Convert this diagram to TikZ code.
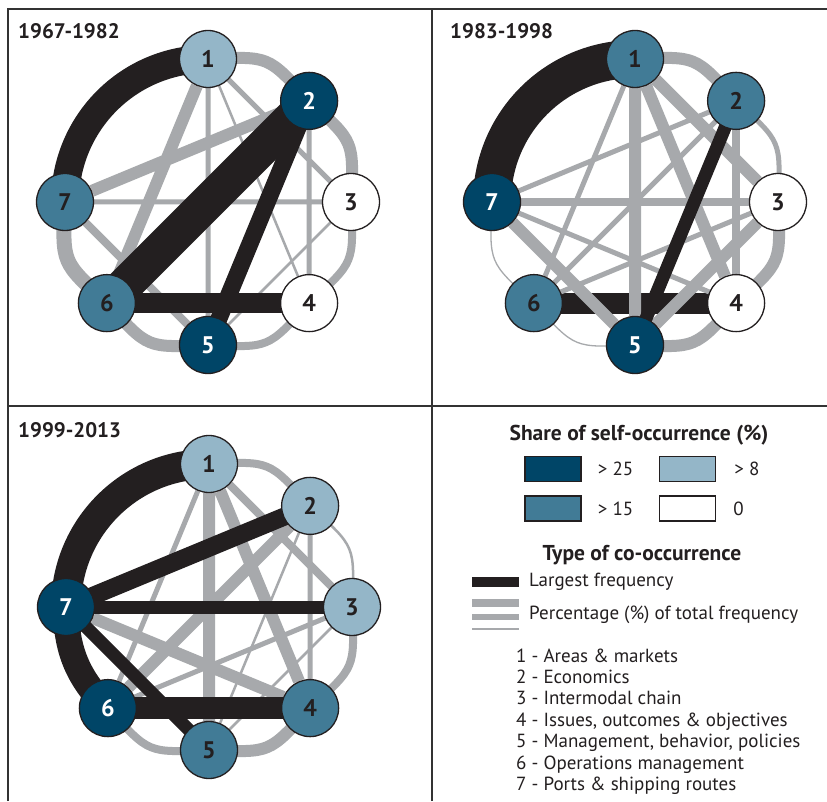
\documentclass[tikz,border=0pt]{standalone}
\usepackage{fontspec}
\setmainfont{PT Sans}
\usetikzlibrary{positioning}
\definecolor{darkc}{RGB}{0,69,103}
\definecolor{midc}{RGB}{65,123,150}
\definecolor{lightc}{RGB}{148,182,200}
\definecolor{grayc}{RGB}{167,169,172}
\definecolor{blkc}{RGB}{35,31,32}
\definecolor{framec}{RGB}{51,51,51}
\pgfdeclarelayer{background}
\pgfsetlayers{background,main}

\begin{document}
\begin{tikzpicture}[x=1pt,y=1pt,
    topic/.style={circle,draw=blkc,line width=1.3pt,minimum size=57pt,inner sep=0pt,text=blkc,font=\fontsize{24}{24}\selectfont\bfseries},
    dk/.style={topic,fill=darkc,text=white},
    md/.style={topic,fill=midc},
    lt/.style={topic,fill=lightc},
    wt/.style={topic,fill=white},
    gx/.style={draw=grayc,line width=15pt},
    gl/.style={draw=grayc,line width=12pt},
    gm/.style={draw=grayc,line width=8pt},
    gs/.style={draw=grayc,line width=5pt},
    gt/.style={draw=grayc,line width=2.5pt},
    gh/.style={draw=grayc,line width=1.3pt},
    ring/.style={bend left=25,looseness=1.45},
    blk/.style={draw=blkc},
    frame/.style={draw=framec,line width=2pt},
    yr/.style={anchor=base west,inner sep=0pt,text=blkc,font=\fontsize{21}{21}\selectfont\bfseries},
    head/.style={inner sep=0pt,text=blkc,font=\fontsize{21.5}{21.5}\selectfont\bfseries},
    keybox/.style={draw=blkc,line width=1.5pt,minimum width=56pt,minimum height=25pt,inner sep=0pt},
    keytxt/.style={inner sep=0pt,text=blkc,font=\fontsize{19}{19}\selectfont}]
    \useasboundingbox (0,0) rectangle (827,801);

    \node[yr] (y1) at (18,762) {1967-1982};
    \node[yr] (y2) at (450,762) {1983-1998};
    \node[yr] (y3) at (18,363) {1999-2013};

    \begin{scope}[shift={(208,599)}]
        \node[lt] (a1) at (90:143) {1};
        \node[dk] (a2) at (45:143) {2};
        \node[wt] (a3) at (0:143) {3};
        \node[wt] (a4) at (-45:143) {4};
        \node[dk] (a5) at (-90:143) {5};
        \node[md] (a6) at (-135:143) {6};
        \node[md] (a7) at (180:143) {7};
    \end{scope}
    \begin{scope}[shift={(635,599)}]
        \node[md] (b1) at (90:143) {1};
        \node[md] (b2) at (45:143) {2};
        \node[wt] (b3) at (0:143) {3};
        \node[wt] (b4) at (-45:143) {4};
        \node[dk] (b5) at (-90:143) {5};
        \node[md] (b6) at (-135:143) {6};
        \node[dk] (b7) at (180:143) {7};
    \end{scope}
    \begin{scope}[shift={(209,194)}]
        \node[lt] (c1) at (90:143) {1};
        \node[lt] (c2) at (45:143) {2};
        \node[lt] (c3) at (0:143) {3};
        \node[md] (c4) at (-45:143) {4};
        \node[md] (c5) at (-90:143) {5};
        \node[dk] (c6) at (-135:143) {6};
        \node[dk] (c7) at (180:143) {7};
    \end{scope}

    \node[head] (sharettl) at (639,366) {Share of self-occurrence (\%)};
    \node[keybox,fill=darkc] (kdark) at (553,332) {};
    \node[keytxt,right=16pt of kdark] (ldark) {> 25};
    \node[keybox,fill=lightc] (klight) at (687.5,332) {};
    \node[keytxt,right=18pt of klight] (llight) {> 8};
    \node[keybox,fill=midc] (kmid) at (553,292.5) {};
    \node[keytxt,right=16pt of kmid] (lmid) {> 15};
    \node[keybox,fill=white] (kwhite) at (687.5,292.5) {};
    \node[keytxt,right=17pt of kwhite] (lwhite) {0};
    \node[head] (typettl) at (642,246) {Type of co-occurrence};
    \node[keytxt,anchor=west] (lbig) at (529,219) {Largest frequency};
    \node[keytxt,anchor=west] (lpct) at (529,186) {Percentage (\%) of total frequency};
    \node[keytxt,anchor=base west] (t1) at (516,139) {1 - Areas \& markets};
    \node[keytxt,anchor=base west] (t2) at (516,117.6) {2 - Economics};
    \node[keytxt,anchor=base west] (t3) at (516,96.2) {3 - Intermodal chain};
    \node[keytxt,anchor=base west] (t4) at (516,74.8) {4 - Issues, outcomes \& objectives};
    \node[keytxt,anchor=base west] (t5) at (516,53.4) {5 - Management, behavior, policies};
    \node[keytxt,anchor=base west] (t6) at (516,32) {6 - Operations management};
    \node[keytxt,anchor=base west] (t7) at (516,10.6) {7 - Ports \& shipping routes};

    \begin{pgfonlayer}{background}
        \fill[white] (0,0) rectangle (827,801);
        \draw[frame] (8,0) -- (8,792) -- (827,792);
        \draw[frame] (432,0) -- (432,792);
        \draw[frame] (8,395) -- (827,395);
        \draw[blk,line width=10pt] (472,219) -- (519,219);
        \draw[draw=grayc,line width=8pt] (472,198) -- (519,198);
        \draw[draw=grayc,line width=6pt] (472,184) -- (519,184);
        \draw[draw=grayc,line width=1.5pt] (472,172) -- (519,172);

        \draw[gl] (a1.center) to[ring] (a2.center);
        \draw[gl] (a2.center) to[ring] (a3.center);
        \draw[gm] (a3.center) to[ring] (a4.center);
        \draw[gm] (a4.center) to[ring] (a5.center);
        \draw[gl] (a5.center) to[ring] (a6.center);
        \draw[gx] (a6.center) to[ring] (a7.center);
        \draw[gl] (a7) -- (a2) (a1) -- (a6);
        \draw[gm] (a7) -- (a5);
        \draw[gs] (a1) -- (a5) (a2) -- (a4) (a7) -- (a3) (a1) -- (a3);
        \draw[gt] (a1) -- (a4) (a3) -- (a5);
        \draw[blk,line width=28pt] (a1.center) to[bend right=45] (a7.center);
        \draw[blk,line width=36pt] (a2.center) -- (a6.center);
        \draw[blk,line width=17pt] (a2.center) -- (a5.center);
        \draw[blk,line width=20pt] (a6.center) -- (a4.center);

        \draw[blk,line width=21pt] (b6.center) -- (b4.center);
        \draw[gl] (b1.center) to[ring] (b2.center);
        \draw[gs] (b2.center) to[ring] (b3.center);
        \draw[gl] (b3.center) to[ring] (b4.center);
        \draw[gl] (b4.center) to[ring] (b5.center);
        \draw[gh] (b5.center) to[ring] (b6.center);
        \draw[gh] (b6.center) to[ring] (b7.center);
        \draw[gs] (b1) -- (b6) (b7) -- (b2) (b7) -- (b4) (b2) -- (b6) (b3) -- (b6);
        \draw[gm] (b7) -- (b3) (b2) -- (b4);
        \draw[gl] (b1) -- (b3) (b1) -- (b4) (b1) -- (b5) (b7) -- (b5) (b3) -- (b5);
        \draw[blk,line width=13pt] (b2.center) -- (b5.center);
        \draw[blk,line width=38pt] (b1.center) to[bend right=45] (b7.center);

        \draw[gm] (c1.center) to[ring] (c2.center);
        \draw[gt] (c2.center) to[ring] (c3.center);
        \draw[gm] (c3.center) to[ring] (c4.center);
        \draw[gl] (c4.center) to[ring] (c5.center);
        \draw[gm] (c5.center) to[ring] (c6.center);
        \draw[gt] (c2) -- (c5) (c3) -- (c5);
        \draw[gs] (c1) -- (c6) (c2) -- (c4) (c3) -- (c6);
        \draw[gm] (c1) -- (c3);
        \draw[gl] (c1) -- (c4) (c1) -- (c5) (c2) -- (c6) (c7) -- (c4);
        \draw[blk,line width=30pt] (c1.center) to[bend right=45] (c7.center);
        \draw[blk,line width=26pt] (c7.center) to[bend right=22.5] (c6.center);
        \draw[blk,line width=18pt] (c7.center) -- (c2.center);
        \draw[blk,line width=13pt] (c7.center) -- (c3.center);
        \draw[blk,line width=13pt] (c7.center) -- (c5.center);
        \draw[blk,line width=22pt] (c6.center) -- (c4.center);
    \end{pgfonlayer}
\end{tikzpicture}
\end{document}
